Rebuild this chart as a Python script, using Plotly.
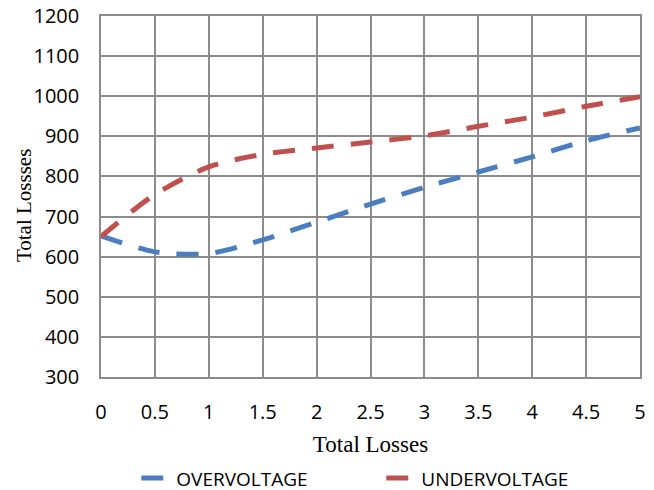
import plotly.graph_objects as go

# Sample points along the x axis
x_vals = [0, 0.5, 1, 1.5, 2, 2.5, 3, 3.5, 4, 4.5, 5]

# Total losses for each case
overvoltage = [652, 612, 608, 642, 686, 731, 773, 811, 849, 889, 921]
undervoltage = [650, 755, 824, 855, 871, 886, 901, 925, 948, 975, 999]

x_ticks = [0, 0.5, 1, 1.5, 2, 2.5, 3, 3.5, 4, 4.5, 5]
x_tick_text = ["0", "0.5", "1", "1.5", "2", "2.5", "3", "3.5", "4", "4.5", "5"]
y_ticks = [300, 400, 500, 600, 700, 800, 900, 1000, 1100, 1200]

grid_color = "#8c8c8c"
dash_style = "22px,17px"

fig = go.Figure()
fig.add_trace(go.Scatter(
    x=x_vals, y=overvoltage, name="OVERVOLTAGE", mode="lines",
    line=dict(color="#4a7ebf", width=5, dash=dash_style, shape="spline", smoothing=0.8),
))
fig.add_trace(go.Scatter(
    x=x_vals, y=undervoltage, name="UNDERVOLTAGE", mode="lines",
    line=dict(color="#c0504d", width=5, dash=dash_style, shape="spline", smoothing=0.8),
))

fig.update_layout(
    width=654, height=490,
    margin=dict(l=101, r=14, t=16, b=113, autoexpand=False),
    paper_bgcolor="white", plot_bgcolor="white",
    font=dict(family="Open Sans", color="#000000"),
    showlegend=True,
    legend=dict(
        orientation="h", x=0.52, xanchor="center",
        yref="container", y=0.024, yanchor="middle",
        font=dict(family="Open Sans", size=19, color="#000000"),
        entrywidth=200, tracegroupgap=0,
    ),
    xaxis=dict(
        range=[0, 5], tickvals=x_ticks, ticktext=x_tick_text,
        showgrid=True, gridcolor=grid_color, gridwidth=1.5,
        showline=True, linecolor=grid_color, linewidth=1.5, mirror=True,
        zeroline=False, ticks="", ticklabelstandoff=16, automargin=False,
        tickfont=dict(family="Open Sans", size=20, color="#000000"),
        title=dict(text="Total Losses", standoff=12,
                   font=dict(family="Liberation Serif", size=23, color="#000000")),
    ),
    yaxis=dict(
        range=[300, 1200], tickvals=y_ticks,
        showgrid=True, gridcolor=grid_color, gridwidth=1.5,
        showline=True, linecolor=grid_color, linewidth=1.5, mirror=True,
        zeroline=False, ticks="", ticklabelstandoff=16, automargin=False,
        tickfont=dict(family="Open Sans", size=20, color="#000000"),
    ),
)

# Vertical axis title, placed just left of the tick labels
fig.add_annotation(
    text="Total Lossses", textangle=-90, showarrow=False,
    xref="paper", yref="paper", x=-0.143, y=0.476,
    xanchor="center", yanchor="middle",
    font=dict(family="Liberation Serif", size=21, color="#000000"),
)

fig.write_html("out.html")
